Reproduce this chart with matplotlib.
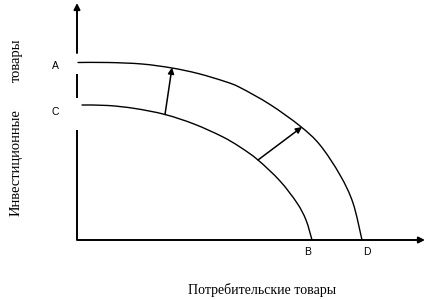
import numpy as np
import matplotlib
matplotlib.use("Agg")
import matplotlib.pyplot as plt
from matplotlib.path import Path
from matplotlib.patches import PathPatch

# --- data (origin at the axes' corner) ---
outer_x = [1, 31, 65, 95, 121, 148, 163, 193, 223, 243, 263, 276, 285]
outer_y = [177.5, 177.5, 176, 172, 166.5, 158.5, 152.5, 135.5, 114, 95, 65, 37, 0]
inner_x = [5, 31, 58, 88, 117, 145, 163, 181, 203, 220, 229, 235]
inner_y = [135, 134.5, 131.5, 125.5, 116, 103.5, 93, 80, 59, 37, 20, 0]

# shift arrows: (start on inner curve) -> (end on outer curve)
shift_start_x = [88, 181]
shift_start_y = [125.5, 80]
shift_end_x = [95, 225]
shift_end_y = [172.5, 113]

point_labels = ["A", "C", "B", "D"]
point_label_x = [-22, -22, 231, 290]
point_label_y = [174, 128, -12, -12]

x_label = "Потребительские товары"
y_label_parts = ["Инвестиционные", "товары"]

x_axis_end = 348
y_axis_end = 237
y_axis_gaps = [(110, 142), (166, 187)]

fig = plt.figure(figsize=(4.45, 3.0), dpi=100)
ax = fig.add_axes([0, 0, 1, 1])
ax.set_xlim(-77, 368)
ax.set_ylim(-60, 240)
ax.axis("off")


def smooth_path(xs, ys):
    pts = np.column_stack([xs, ys]).astype(float)
    n = len(pts)
    verts = [pts[0]]
    codes = [Path.MOVETO]
    for i in range(n - 1):
        p0 = pts[i - 1] if i > 0 else pts[i]
        p1 = pts[i]
        p2 = pts[i + 1]
        p3 = pts[i + 2] if i + 2 < n else pts[i + 1]
        c1 = p1 + (p2 - p0) / 6.0
        c2 = p2 - (p3 - p1) / 6.0
        verts += [c1, c2, p2]
        codes += [Path.CURVE4] * 3
    return Path(verts, codes)


for xs, ys in [(outer_x, outer_y), (inner_x, inner_y)]:
    ax.add_patch(PathPatch(smooth_path(xs, ys), fill=False, lw=1.0,
                           edgecolor="black", capstyle="round"))

# axes
ax.annotate("", xy=(x_axis_end, 0), xytext=(0, 0),
            arrowprops=dict(arrowstyle="-|>", lw=1.4, color="black",
                            mutation_scale=9, shrinkA=0, shrinkB=0))
y_breaks = [0]
for g0, g1 in y_axis_gaps:
    y_breaks += [g0, g1]
y_breaks.append(y_axis_end)
for k in range(0, len(y_breaks) - 2, 2):
    ax.plot([0, 0], [y_breaks[k], y_breaks[k + 1]], color="black", lw=1.4,
            solid_capstyle="butt")
ax.annotate("", xy=(0, y_breaks[-1]), xytext=(0, y_breaks[-2]),
            arrowprops=dict(arrowstyle="-|>", lw=1.4, color="black",
                            mutation_scale=9, shrinkA=0, shrinkB=0))

# shift arrows
for sx, sy, ex, ey in zip(shift_start_x, shift_start_y, shift_end_x, shift_end_y):
    ax.annotate("", xy=(ex, ey), xytext=(sx, sy),
                arrowprops=dict(arrowstyle="-|>", lw=1.1, color="black",
                                mutation_scale=9, shrinkA=0, shrinkB=0))

for t, x, y in zip(point_labels, point_label_x, point_label_y):
    ax.text(x, y, t, ha="center", va="center", fontsize=7.5,
            family="Liberation Sans")

ax.text(185, -50, x_label, ha="center", va="center", fontsize=10,
        family="Liberation Serif")
ax.text(-61, 77, y_label_parts[0], ha="center", va="center", rotation=90,
        fontsize=10.5, family="Liberation Serif")
ax.text(-61, 180, y_label_parts[1], ha="center", va="center", rotation=90,
        fontsize=10.5, family="Liberation Serif")

fig.savefig("out.png", dpi=100)
